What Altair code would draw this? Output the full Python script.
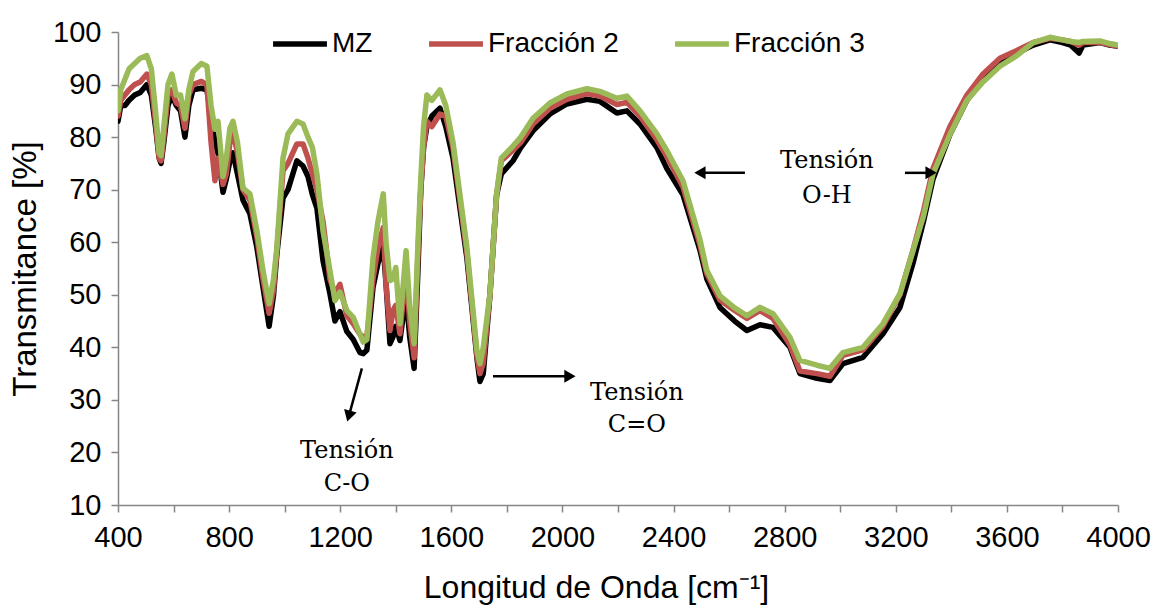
import altair as alt
import pandas as pd

WAVENUMBER = [400, 410, 425, 440, 460, 480, 504, 520, 535, 548, 555, 565, 580, 594, 610, 625, 641, 655, 670, 700,
              720, 735, 749, 760, 778, 790, 803, 814, 830, 850, 875, 900, 922, 944, 960, 972, 994, 1012, 1044, 1066,
              1084, 1100, 1116, 1138, 1163, 1181, 1199, 1224, 1247, 1271, 1283, 1296, 1318, 1336, 1355, 1365, 1379, 1390, 1400, 1415,
              1437, 1450, 1466, 1480, 1490, 1500, 1512, 1530, 1559, 1580, 1606, 1656, 1692, 1703, 1715, 1739, 1763, 1780, 1822, 1850,
              1894, 1955, 2016, 2088, 2135, 2196, 2232, 2279, 2340, 2376, 2434, 2495, 2520, 2567, 2620, 2664, 2711, 2758, 2819, 2855,
              2916, 2963, 3010, 3082, 3154, 3215, 3262, 3300, 3334, 3395, 3456, 3514, 3575, 3636, 3695, 3755, 3800, 3830, 3860, 3874,
              3935, 3970, 4000]

MZ = [83, 86, 86, 87, 88, 88.5, 90, 88, 82, 76, 75, 79, 86, 88, 86, 85, 80, 86, 89, 89.3,
      89, 84, 79, 77, 69.5, 72, 75.5, 77, 73, 68, 65.4, 59, 51.4, 44, 50, 57.8, 68.4, 70, 75.5, 74.5,
      72.5, 69, 66.5, 56.5, 50.2, 45, 46.8, 43, 41.5, 39, 38.8, 39.5, 51.4, 56, 59, 52, 40.7, 42, 44, 41.3,
      50, 42, 36, 55, 70, 78, 82, 84, 85.5, 82, 76, 57, 38, 33.5, 35, 50, 69, 73, 75.5, 78,
      81.2, 84.4, 86.3, 87.2, 86.8, 84.6, 85, 82.5, 78, 74, 69, 58.5, 53, 47.6, 45, 43.2, 44.3, 43.8, 40, 35,
      34.1, 33.7, 36.9, 38.1, 42.6, 47.6, 56, 64, 72, 80.5, 87, 91, 94, 96, 97.5, 98.5, 98, 97.5, 96, 97.5,
      98, 97.5, 97.3]

FRACCION_2 = [84, 87, 88, 89, 90, 90.5, 92, 90, 83, 76, 75.5, 80, 88, 89, 86.5, 86, 81.7, 88, 90, 90.6,
              90, 79, 71.7, 76, 71, 73, 79, 81, 77, 70, 68, 61, 53, 46.5, 51, 58.5, 73.6, 75, 78.7, 78.7,
              76, 73, 70, 64, 53, 50.2, 52, 46, 44.5, 42.5, 42, 42, 53, 59, 62.8, 52, 43.2, 47, 48, 42.6,
              55, 45, 38, 58, 70, 78, 83, 82, 84.4, 84, 78, 58, 38.5, 35, 37, 50, 69, 75.5, 77.5, 79,
              82.5, 85.5, 87.2, 88.3, 87.8, 86.2, 86.6, 84, 79.5, 76.3, 70.5, 59.5, 54, 49, 47, 45.5, 47, 45.5, 40.5, 35.5,
              35, 34.5, 38.5, 39.5, 44, 50, 58.5, 66, 74, 82, 88, 92, 95, 96.5, 98, 98.8, 98.5, 98.2, 97.5, 98,
              98, 97.6, 97.3]

FRACCION_3 = [85, 89, 91, 93, 94, 95, 95.5, 93, 85, 77, 76.5, 82, 90, 92, 88, 88, 83.5, 89, 92.5, 94,
              93.5, 86, 81.5, 83, 72.5, 76, 81.7, 83, 79, 70.3, 69.2, 62.2, 54.6, 48.3, 53, 59, 76, 80.6, 83, 82.5,
              80, 78, 73, 62.2, 54.6, 48.9, 50.5, 47, 45.7, 42.5, 41, 41.5, 57, 64, 69.2, 60, 52.7, 53, 55.2, 44.5,
              58.4, 48, 40.7, 60, 72, 82, 88, 87, 89, 86, 79, 59, 39.4, 36.9, 40, 50.2, 69.2, 76, 78.3, 80,
              83.6, 86.5, 88.2, 89.2, 88.7, 87.4, 87.8, 85, 80.6, 77.4, 71.7, 60.5, 54.6, 49.8, 47.5, 46, 47.6, 46.4, 41.9, 37.5,
              36.6, 36, 39, 40, 44.5, 50.2, 58.4, 65, 73, 80.5, 87, 90.5, 93.5, 95.5, 98, 99, 98.5, 98.2, 98, 98.2,
              98.3, 97.8, 97.5]

SERIES = ["MZ", "Fracción 2", "Fracción 3"]
COLORS = ["#000000", "#C0504D", "#9BBB59"]

# annotation texts and anchor points (data coordinates)
ANN_TEXT = ["Tensión", "C-O", "Tensión", "C=O", "Tensión", "O-H"]
ANN_X = [1224, 1224, 2268, 2268, 2952, 2952]
ANN_Y = [20.2, 14.0, 31.4, 25.2, 75.5, 68.8]

ARROW_X1 = [1278, 1750, 2657, 3233]
ARROW_Y1 = [36.0, 34.5, 73.2, 73.2]
ARROW_X2 = [1231, 2027, 2495, 3327]
ARROW_Y2 = [26.9, 34.5, 73.2, 73.2]
ARROW_SHAPE = ["triangle-down", "triangle-right", "triangle-left", "triangle-right"]
ARROW_ANGLE = [16, 0, 0, 0]

assert len(WAVENUMBER) == len(MZ) == len(FRACCION_2) == len(FRACCION_3)

rows = []
for name, vals in zip(SERIES, [MZ, FRACCION_2, FRACCION_3]):
    for w, t in zip(WAVENUMBER, vals):
        rows.append({"wn": w, "T": t, "serie": name})
df = pd.DataFrame(rows)

ann_df = pd.DataFrame({"text": ANN_TEXT, "x": ANN_X, "y": ANN_Y})
arrow_df = pd.DataFrame({"x1": ARROW_X1, "y1": ARROW_Y1, "x2": ARROW_X2, "y2": ARROW_Y2,
                         "shape": ARROW_SHAPE, "angle": ARROW_ANGLE})

x_scale = alt.Scale(domain=[400, 4000], nice=False, zero=False)
y_scale = alt.Scale(domain=[10, 100], nice=False, zero=False)

x_axis = alt.Axis(
    values=list(range(400, 4001, 100)),
    labelExpr="datum.value % 400 == 0 ? datum.label : ''",
    format="d",
    title="Longitud de Onda [cm⁻¹]",
    titleFontSize=32,
    titleX=478,
    grid=False,
    tickSize=7,
    labelPadding=11,
    titlePadding=20,
    labelOverlap=False,
    labelFlush=False,
)
y_axis = alt.Axis(
    values=list(range(10, 101, 5)),
    labelExpr="datum.value % 10 == 0 ? datum.label : ''",
    title="Transmitance [%]",
    titleFontSize=33,
    grid=False,
    tickSize=7,
    labelPadding=10,
    titlePadding=10,
    labelOverlap=False,
    labelFlush=False,
)

color = alt.Color(
    "serie:N",
    scale=alt.Scale(domain=SERIES, range=COLORS),
    title=None,
    legend=alt.Legend(
        orient="none",
        legendX=152,
        legendY=-18,
        direction="horizontal",
        symbolType="stroke",
        symbolStrokeWidth=5.5,
        symbolSize=2900,
        labelFontSize=28,
        labelFont="Liberation Sans",
        labelColor="#000000",
        labelOffset=2,
        columnPadding=45,
        labelLimit=300,
    ),
)

layers = []
for name in SERIES:
    layers.append(
        alt.Chart(df)
        .transform_filter(alt.datum.serie == name)
        .mark_line(strokeWidth=5.5, strokeCap="round", strokeJoin="round", clip=True)
        .encode(
            x=alt.X("wn:Q", scale=x_scale, axis=x_axis),
            y=alt.Y("T:Q", scale=y_scale, axis=y_axis),
            color=color,
        )
    )

rules = alt.Chart(arrow_df).mark_rule(color="#000000", strokeWidth=2.5).encode(
    x=alt.X("x1:Q", scale=x_scale), y=alt.Y("y1:Q", scale=y_scale),
    x2="x2:Q", y2="y2:Q",
)
heads = alt.Chart(arrow_df).mark_point(filled=True, color="#000000", size=170, opacity=1).encode(
    x=alt.X("x2:Q", scale=x_scale), y=alt.Y("y2:Q", scale=y_scale),
    shape=alt.Shape("shape:N", scale=None),
    angle=alt.Angle("angle:Q", scale=None),
)
texts = alt.Chart(ann_df).mark_text(font="DejaVu Serif", fontSize=24, color="#000000").encode(
    x=alt.X("x:Q", scale=x_scale), y=alt.Y("y:Q", scale=y_scale), text="text:N",
)

chart = (
    alt.layer(*layers, rules, heads, texts)
    .properties(
        width=1000,
        height=473,
        autosize=alt.AutoSizeParams(type="none"),
        padding={"left": 118, "top": 32, "right": 34, "bottom": 105},
        background="#ffffff",
    )
    .configure_view(stroke=None)
    .configure_axis(
        domainColor="#868686",
        tickColor="#868686",
        domainWidth=1.5,
        tickWidth=1.5,
        labelFont="Liberation Sans",
        labelFontSize=29,
        labelColor="#000000",
        titleFont="Liberation Sans",
        titleFontWeight="normal",
        titleColor="#000000",
    )
)

chart.save("out.html", embed_options={"renderer": "svg", "actions": False})
